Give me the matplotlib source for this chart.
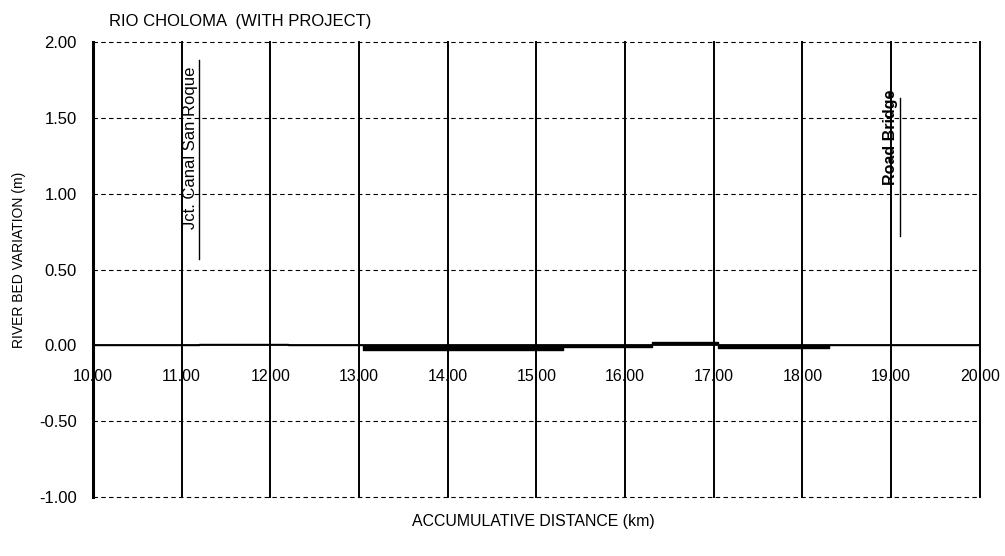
import matplotlib
matplotlib.use('agg')
import matplotlib.pyplot as plt

# river bed variation along the reach (step profile)
dist = [10.0, 11.2, 12.2, 13.05, 15.3, 16.3, 17.05, 18.3, 20.0]
bed_var = [0.0, 0.01, 0.0, -0.03, -0.01, 0.02, -0.02, 0.0, 0.0]

x_ticks = [10, 11, 12, 13, 14, 15, 16, 17, 18, 19, 20]
y_ticks = [-1.0, -0.5, 0.0, 0.5, 1.0, 1.5, 2.0]

# landmarks: name, position, bottom of marker line, text start, line top, bold
marks = [("Jct. Canal San Roque", 11.2, 0.57, 0.77, 1.88, 'normal', 12),
         ("Road Bridge", 19.1, 0.72, 1.06, 1.63, 'bold', 11.5)]

plt.rcParams['font.family'] = ['Liberation Sans', 'DejaVu Sans']

fig = plt.figure(figsize=(10.05, 5.56), dpi=100)
ax = fig.add_axes([0.0925, 0.106, 0.8825, 0.8185])

ax.set_xlim(10, 20)
ax.set_ylim(-1.0, 2.0)

# grid: solid verticals, dashed horizontals
for xv in x_ticks:
    ax.axvline(xv, color='black', lw=1.4, zorder=1, clip_on=False)
for yv in y_ticks:
    if yv == 0.0:
        continue
    ax.axhline(yv, color='black', lw=0.8, ls=(0, (4, 3)), zorder=1,
               clip_on=False)
ax.axhline(0.0, color='black', lw=1.3, zorder=2)

ax.fill_between(dist, bed_var, 0, step='post', color='black', lw=0, zorder=3)
ax.step(dist, bed_var, where='post', color='black', lw=1.0, zorder=3)

for name, xm, y0, yt, y1, wt, fs in marks:
    ax.plot([xm, xm], [y0, y1], color='black', lw=1.0, zorder=4)
    ax.text(xm - 0.02, yt, name, rotation=90, ha='right', va='bottom',
            fontsize=fs, fontweight=wt, zorder=4)

for side in ['top', 'right', 'bottom']:
    ax.spines[side].set_visible(False)
ax.spines['left'].set_linewidth(2.2)
ax.spines['bottom'].set_position(('data', 0))

ax.set_xticks(x_ticks)
ax.set_xticklabels(['{:.2f}'.format(v) for v in x_ticks], fontsize=11.5)
ax.set_yticks(y_ticks)
ax.set_yticklabels(['{:.2f}'.format(v) for v in y_ticks], fontsize=12)
ax.tick_params(axis='x', length=0, pad=17)
ax.tick_params(axis='y', length=0, pad=11.5)

fig.text(0.108, 0.962, 'RIO CHOLOMA  (WITH PROJECT)', fontsize=12,
         ha='left', va='center')
fig.text(0.019, 0.532, 'RIVER BED VARIATION (m)', fontsize=10,
         rotation=90, ha='center', va='center')
fig.text(0.531, 0.062, 'ACCUMULATIVE DISTANCE (km)', fontsize=11.4,
         ha='center', va='center')

plt.savefig('out.png', dpi=100)
